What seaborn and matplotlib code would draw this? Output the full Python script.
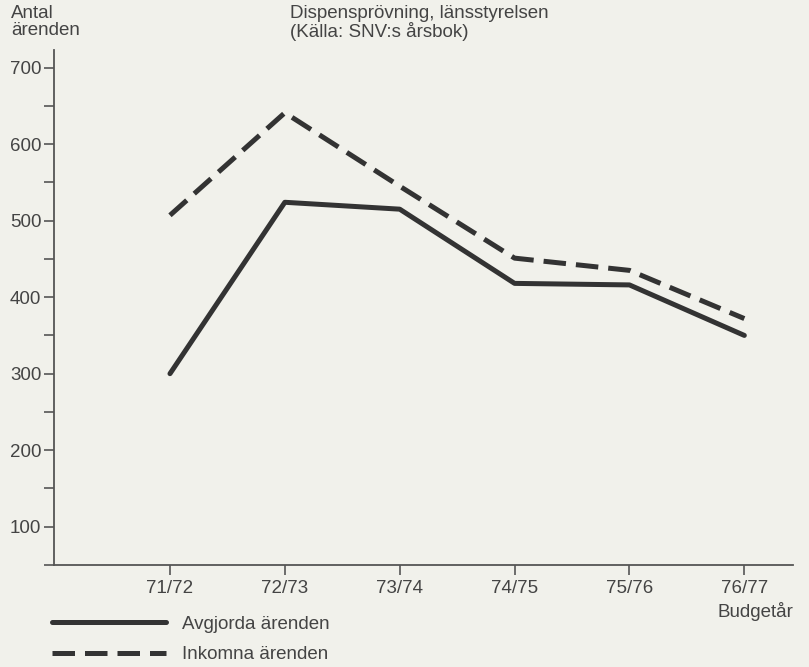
import numpy as np
import matplotlib.pyplot as plt
import pandas as pd
import seaborn as sns
from matplotlib.ticker import MultipleLocator

# values
years = ["71/72", "72/73", "73/74", "74/75", "75/76", "76/77"]
avgjorda = [300, 524, 515, 418, 416, 350]
inkomna = [507, 641, 545, 451, 435, 372]

df = pd.DataFrame({
    "year": years * 2,
    "value": avgjorda + inkomna,
    "serie": ["Avgjorda ärenden"] * len(years) + ["Inkomna ärenden"] * len(years),
})

bg = "#f1f1eb"
ink = "#333333"
txt = "#444444"
fs = 13.5

sns.set_theme(style="ticks")
plt.rcParams["font.family"] = ["Liberation Sans", "DejaVu Sans"]

fig = plt.figure(figsize=(8.09, 6.67), dpi=100, facecolor=bg)
ax = fig.add_axes([0.0667, 0.153, 0.913, 0.772])
ax.set_facecolor(bg)

sns.lineplot(
    data=df, x="year", y="value", style="serie",
    dashes={"Avgjorda ärenden": "", "Inkomna ärenden": (4.5, 2.0)},
    color=ink, linewidth=3.6, ax=ax, legend=False,
)

ax.set_xlim(-1.01, 5.42)
ax.set_ylim(50, 723)
ax.yaxis.set_major_locator(MultipleLocator(100))
ax.yaxis.set_minor_locator(MultipleLocator(50))
ax.set_yticks([100, 200, 300, 400, 500, 600, 700])
ax.tick_params(axis="both", which="both", direction="out", length=7,
               width=1.2, color="#555555", labelcolor=txt, labelsize=fs, pad=2)
ax.tick_params(axis="y", which="minor", length=7)
ax.tick_params(axis="x", pad=4)
for s in ["top", "right"]:
    ax.spines[s].set_visible(False)
for s in ["left", "bottom"]:
    ax.spines[s].set_color("#555555")
    ax.spines[s].set_linewidth(1.3)
ax.set_xlabel("")
ax.set_ylabel("")

fig.text(0.014, 0.993, "Antal\närenden", ha="left", va="top",
         fontsize=fs, color=txt, linespacing=1.05)
fig.text(0.358, 0.993, "Dispensprövning, länsstyrelsen\n(Källa: SNV:s årsbok)",
         ha="left", va="top", fontsize=fs, color=txt, linespacing=1.05)
fig.text(0.887, 0.083, "Budgetår", ha="left", va="center",
         fontsize=fs, color=txt)

# legend drawn below the axes
handles = [
    plt.Line2D([], [], color=ink, lw=3.6),
    plt.Line2D([], [], color=ink, lw=3.6, dashes=(4.5, 2.0)),
]
leg = fig.legend(handles, ["Avgjorda ärenden", "Inkomna ärenden"],
                 loc="upper left", bbox_to_anchor=(0.064, 0.077),
                 frameon=False, handlelength=6.1, handletextpad=0.85,
                 labelspacing=0.72, fontsize=fs, borderpad=0, borderaxespad=0)
for t in leg.get_texts():
    t.set_color(txt)

fig.savefig("out.png", dpi=100, facecolor=bg)
